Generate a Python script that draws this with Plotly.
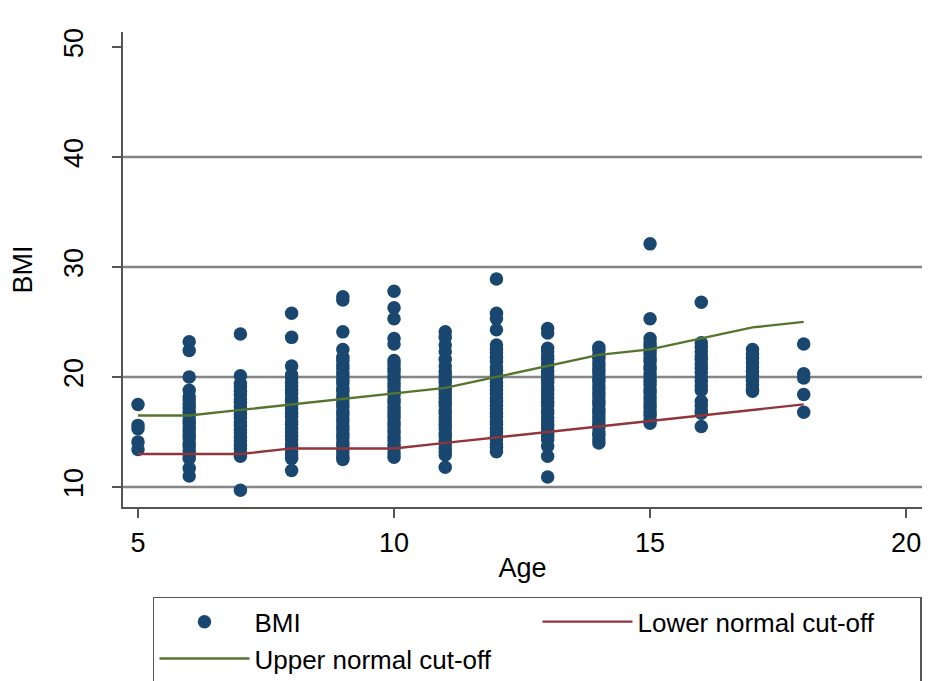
import plotly.graph_objects as go

# ---- data ----
bmi_age5 = [17.5, 15.6, 15.3, 14.1, 13.4]
bmi_age6 = [23.2, 22.4, 20.0, 18.8, 18.2, 17.9, 17.5, 17.2, 16.8, 16.5, 16.1, 15.8, 15.4,
            15.1, 14.7, 14.4, 14.0, 13.7, 13.3, 13.0, 12.6, 11.7, 11.0]
bmi_age7 = [23.9, 20.1, 19.4, 19.1, 18.7, 18.4, 18.0, 17.7, 17.3, 17.0, 16.6, 16.3, 15.9,
            15.6, 15.2, 14.9, 14.5, 14.2, 13.8, 13.5, 13.1, 12.8, 9.7]
bmi_age8 = [25.8, 23.6, 21.0, 20.2, 19.9, 19.5, 19.2, 18.8, 18.5, 18.1, 17.8, 17.4, 17.1,
            16.7, 16.4, 16.0, 15.7, 15.3, 15.0, 14.6, 14.3, 13.9, 13.6, 13.2, 12.9, 12.6, 11.5]
bmi_age9 = [27.3, 27.0, 24.1, 22.5, 21.8, 21.5, 21.1, 20.8, 20.4, 20.1, 19.7, 19.4, 19.0,
            18.7, 18.3, 18.0, 17.6, 17.3, 16.9, 16.6, 16.2, 15.9, 15.5, 15.2, 14.8, 14.5,
            14.1, 13.8, 13.4, 13.1, 12.7, 12.5]
bmi_age10 = [27.8, 26.3, 25.3, 23.5, 23.0, 21.5, 21.2, 20.8, 20.5, 20.1, 19.8, 19.4, 19.1,
             18.7, 18.4, 18.0, 17.7, 17.3, 17.0, 16.6, 16.3, 15.9, 15.6, 15.2, 14.9, 14.5,
             14.2, 13.8, 13.5, 13.1, 12.7]
bmi_age11 = [24.1, 23.6, 22.9, 22.3, 21.6, 21.0, 20.5, 20.2, 19.8, 19.5, 19.1, 18.8, 18.4,
             18.1, 17.7, 17.4, 17.0, 16.7, 16.3, 16.0, 15.6, 15.3, 14.9, 14.6, 14.2, 13.9,
             13.5, 13.2, 12.9, 11.8]
bmi_age12 = [28.9, 25.8, 25.3, 24.3, 22.9, 22.5, 22.2, 21.8, 21.4, 20.9, 20.6, 20.2, 19.9,
             19.5, 19.2, 18.8, 18.5, 18.1, 17.8, 17.4, 17.1, 16.7, 16.4, 16.0, 15.7, 15.3,
             15.0, 14.6, 14.3, 13.9, 13.6, 13.2]
bmi_age13 = [24.4, 24.0, 22.6, 22.3, 21.9, 21.6, 21.2, 20.9, 20.5, 20.2, 19.8, 19.5, 19.1,
             18.8, 18.4, 18.1, 17.7, 17.4, 17.0, 16.7, 16.3, 16.0, 15.6, 15.3, 14.9, 14.6,
             14.3, 13.7, 12.8, 10.9]
bmi_age14 = [22.7, 22.4, 22.0, 21.7, 21.3, 21.0, 20.6, 20.3, 19.9, 19.6, 19.2, 18.9, 18.5,
             18.2, 17.8, 17.5, 17.1, 16.8, 16.4, 16.1, 15.7, 15.4, 15.0, 14.7, 14.3, 14.0]
bmi_age15 = [32.1, 25.3, 23.5, 23.1, 22.8, 22.4, 22.1, 21.7, 21.4, 21.0, 20.7, 20.3, 20.0,
             19.6, 19.3, 18.9, 18.6, 18.2, 17.9, 17.5, 17.2, 16.8, 16.5, 16.1, 15.8]
bmi_age16 = [26.8, 23.1, 22.7, 22.3, 21.9, 21.6, 21.2, 20.8, 20.4, 20.0, 19.6, 19.2, 18.8,
             17.8, 17.4, 17.0, 16.7, 15.5]
bmi_age17 = [22.5, 22.1, 21.7, 21.3, 20.9, 20.5, 20.1, 19.7, 19.3, 18.9, 18.7]
bmi_age18 = [23.0, 20.3, 19.9, 18.4, 16.8]

cutoff_ages = [5, 6, 7, 8, 9, 10, 11, 12, 13, 14, 15, 16, 17, 18]
upper_cutoff = [16.5, 16.5, 17.0, 17.5, 18.0, 18.5, 19.0, 20.0, 21.0, 22.0, 22.5, 23.5, 24.5, 25.0]
lower_cutoff = [13.0, 13.0, 13.0, 13.5, 13.5, 13.5, 14.0, 14.5, 15.0, 15.5, 16.0, 16.5, 17.0, 17.5]

x_ticks = [5, 10, 15, 20]
y_ticks = [10, 20, 30, 40, 50]
grid_values = [10, 20, 30, 40]

# ---- build ----
bmi_by_age = {5: bmi_age5, 6: bmi_age6, 7: bmi_age7, 8: bmi_age8, 9: bmi_age9,
              10: bmi_age10, 11: bmi_age11, 12: bmi_age12, 13: bmi_age13,
              14: bmi_age14, 15: bmi_age15, 16: bmi_age16, 17: bmi_age17, 18: bmi_age18}
xs, ys = [], []
for a, vals in bmi_by_age.items():
    xs += [a] * len(vals)
    ys += vals

FONT = "Liberation Sans, Arial, sans-serif"
fig = go.Figure()
fig.add_trace(go.Scatter(x=xs, y=ys, mode="markers", name="BMI",
                         marker=dict(size=13.5, color="#1a476f", line=dict(width=0))))
fig.add_trace(go.Scatter(x=cutoff_ages, y=lower_cutoff, mode="lines",
                         name="Lower normal cut-off", line=dict(color="#90353b", width=2.3)))
fig.add_trace(go.Scatter(x=cutoff_ages, y=upper_cutoff, mode="lines",
                         name="Upper normal cut-off", line=dict(color="#55752f", width=2.3)))

for g in grid_values:
    fig.add_shape(type="line", xref="paper", x0=0, x1=1, yref="y", y0=g, y1=g,
                  line=dict(color="#858585", width=2.5), layer="below")

fig.update_layout(
    width=924, height=673,
    margin=dict(l=115, r=10, t=24, b=174, autoexpand=False),
    paper_bgcolor="white", plot_bgcolor="white",
    font=dict(family=FONT, size=27, color="#000000"),
    showlegend=True,
    legend=dict(orientation="h", x=0.0375, xanchor="left", y=-0.189, yanchor="top",
                bordercolor="#555555", borderwidth=1.5, bgcolor="white",
                entrywidth=278, itemwidth=90, font=dict(size=26), tracegroupgap=0),
)
fig.update_xaxes(range=[4.707, 20.31], tickvals=x_ticks, showgrid=False, zeroline=False,
                 showline=True, linecolor="#555555", linewidth=1.5,
                 ticks="outside", ticklen=9, tickcolor="#555555", tickwidth=1.5,
                 ticklabelstandoff=2,
                 title=dict(text="Age", standoff=1, font=dict(size=27)))
fig.update_yaxes(range=[8.18, 51.36], tickvals=y_ticks, showgrid=False, zeroline=False,
                 showline=True, linecolor="#555555", linewidth=1.5,
                 ticks="outside", ticklen=9, tickcolor="#555555", tickwidth=1.5,
                 tickangle=-90, ticklabelstandoff=18,
                 title=dict(text="BMI", standoff=20, font=dict(size=27)))

fig.write_html("out.html")
